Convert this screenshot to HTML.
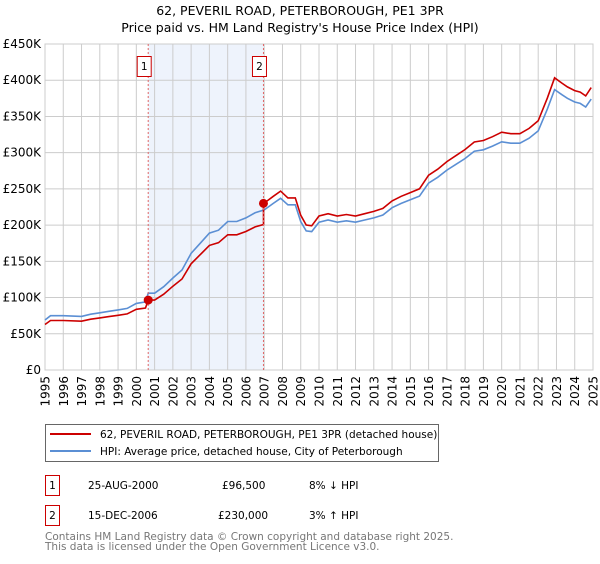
<!DOCTYPE html>
<html><head><meta charset="utf-8"><style>
body{margin:0;background:#fff;width:600px;height:560px;overflow:hidden;font-family:"DejaVu Sans","Liberation Sans",sans-serif}
svg text{font-family:"DejaVu Sans","Liberation Sans",sans-serif}
</style></head><body>
<svg id="c" width="600" height="560" xmlns="http://www.w3.org/2000/svg">
<text x="300" y="15" text-anchor="middle" font-size="12.5" fill="#000">62, PEVERIL ROAD, PETERBOROUGH, PE1 3PR</text>
<text x="300" y="32" text-anchor="middle" font-size="12.5" fill="#000">Price paid vs. HM Land Registry's House Price Index (HPI)</text>
<g id="plot"></g>
<rect x="45.5" y="424.5" width="393" height="37" fill="#fff" stroke="#666"/>
<line x1="50" y1="434" x2="91" y2="434" stroke="#cc0000" stroke-width="2"/>
<text x="100" y="438" font-size="10.5">62, PEVERIL ROAD, PETERBOROUGH, PE1 3PR (detached house)</text>
<line x1="50" y1="451" x2="91" y2="451" stroke="#5b8fd4" stroke-width="2"/>
<text x="100" y="455" font-size="10.5">HPI: Average price, detached house, City of Peterborough</text>
<g>
<rect x="45.5" y="475.5" width="14" height="20" fill="#fff" stroke="#cc0000"/>
<text x="52.5" y="489" text-anchor="middle" font-size="10.5">1</text>
<text x="88" y="489" font-size="10.5">25-AUG-2000</text>
<text x="222" y="489" font-size="10.5">£96,500</text>
<text x="309" y="489" font-size="10.5">8% ↓ HPI</text></g>
<g>
<rect x="45.5" y="505.5" width="14" height="20" fill="#fff" stroke="#cc0000"/>
<text x="52.5" y="519" text-anchor="middle" font-size="10.5">2</text>
<text x="88" y="519" font-size="10.5">15-DEC-2006</text>
<text x="218" y="519" font-size="10.5">£230,000</text>
<text x="309" y="519" font-size="10.5">3% ↑ HPI</text></g>
<text x="45" y="540" font-size="10.5" fill="#777">Contains HM Land Registry data © Crown copyright and database right 2025.</text>
<text x="45" y="550" font-size="10.5" fill="#777">This data is licensed under the Open Government Licence v3.0.</text>
</svg>
<script>
const hpiYears=[1995,1995.3,1996,1997,1997.5,1998,1998.5,1999,1999.5,2000,2000.5,2000.65,2001,2001.5,2002,2002.5,2003,2003.5,2004,2004.5,2005,2005.5,2006,2006.5,2007,2007.5,2007.9,2008.3,2008.7,2009,2009.3,2009.6,2010,2010.5,2011,2011.5,2012,2012.5,2013,2013.5,2014,2014.5,2015,2015.5,2016,2016.5,2017,2017.5,2018,2018.5,2019,2019.5,2020,2020.5,2021,2021.5,2022,2022.5,2022.9,2023.3,2023.6,2024,2024.3,2024.6,2024.9];
const hpiValues=[69,75,75,74,77,79,81,83,85,92,94,106,106,115,127,138,161,175,189,193,205,205,210,217,221,230,237,228,228,205,192,191,204,207,204,206,204,207,210,214,224,230,235,240,258,266,276,284,292,302,304,309,315,313,313,320,330,360,387,380,375,370,368,363,374];
const saleYears=[2000.65,2006.96];
const salePrices=[96.5,230];
const saleLabels=["1","2"];
const yTicks=[0,50,100,150,200,250,300,350,400,450];
const yTickLabels=["£0","£50K","£100K","£150K","£200K","£250K","£300K","£350K","£400K","£450K"];
const xTicks=[1995,1996,1997,1998,1999,2000,2001,2002,2003,2004,2005,2006,2007,2008,2009,2010,2011,2012,2013,2014,2015,2016,2017,2018,2019,2020,2021,2022,2023,2024,2025];

const X0=45,X1=593,Y0=370,Y1=44;
const xs=t=>X0+(t-1995)/30*(X1-X0);
const ys=v=>Y0-v/450*(Y0-Y1);
const NS="http://www.w3.org/2000/svg";
const g=document.getElementById('plot');
function mk(tag,attrs,parent){const e=document.createElementNS(NS,tag);for(const k in attrs)e.setAttribute(k,attrs[k]);(parent||g).appendChild(e);return e;}
function hpiAt(t){for(let i=0;i<hpiYears.length-1;i++){if(t>=hpiYears[i]&&t<=hpiYears[i+1]){const f=(t-hpiYears[i])/(hpiYears[i+1]-hpiYears[i]);return hpiValues[i]+f*(hpiValues[i+1]-hpiValues[i]);}}return hpiValues[hpiValues.length-1];}

// shaded band
const band=mk('rect',{x:xs(saleYears[0]),y:Y1,width:xs(saleYears[1])-xs(saleYears[0]),height:Y0-Y1,fill:'#eef3fc'});


// grid
for(let i=0;i<yTicks.length;i++){
  const y=ys(yTicks[i]);
  const l=mk('line',{x1:X0,x2:X1,y1:y,y2:y,stroke:'#ccc','stroke-width':1});
  
  
  const t=mk('text',{x:X0-4,y:y+4,'text-anchor':'end','font-size':'12'});
  t.textContent=yTickLabels[i];
  
  
}
for(const yr of xTicks){
  const x=xs(yr);
  const l=mk('line',{x1:x,x2:x,y1:Y1,y2:Y0,stroke:'#ccc','stroke-width':1});
  
  
  const t=mk('text',{x:0,y:0,'font-size':'12','text-anchor':'end',transform:`translate(${x+4.5},${Y0+6}) rotate(-90)`});
  t.textContent=yr;
  
  
}
const bx=mk('rect',{x:X0,y:Y1,width:X1-X0,height:Y0-Y1,fill:'none',stroke:'#ccc'});


// hpi line
let d='';hpiYears.forEach((t,i)=>{d+=(i?'L':'M')+xs(t).toFixed(1)+','+ys(hpiValues[i]).toFixed(1);});
const hp=mk('path',{d:d,fill:'none',stroke:'#5b8fd4','stroke-width':1.6});


// property line: HPI scaled from most recent sale
const f0=salePrices[0]/hpiAt(saleYears[0]),f1=salePrices[1]/hpiAt(saleYears[1]);
let pts=[];
hpiYears.forEach((t,i)=>{if(t<saleYears[1])pts.push([t,hpiValues[i]*f0]);});
pts.push([saleYears[1],hpiAt(saleYears[1])*f0]);
pts.push([saleYears[1],salePrices[1]]);
hpiYears.forEach((t,i)=>{if(t>saleYears[1])pts.push([t,hpiValues[i]*f1]);});
let d2='';pts.forEach((p,i)=>{d2+=(i?'L':'M')+xs(p[0]).toFixed(1)+','+ys(p[1]).toFixed(1);});
const rp=mk('path',{d:d2,fill:'none',stroke:'#cc0000','stroke-width':1.6});


// sale markers
for(let i=0;i<saleYears.length;i++){
  const x=xs(saleYears[i]);
  const vl=mk('line',{x1:x,x2:x,y1:Y1,y2:Y0,stroke:'#e06666','stroke-width':1,'stroke-dasharray':'2,2'});
  
  
  const c=mk('circle',{cx:x,cy:ys(salePrices[i]),r:4.5,fill:'#cc0000'});
  
  
  const r=mk('rect',{x:x-11,y:56.5,width:14,height:20,fill:'#fff',stroke:'#cc0000'});
  
  
  const tt=mk('text',{x:x-4,y:70,'text-anchor':'middle','font-size':'10.5'});
  tt.textContent=saleLabels[i];
  
  
}
</script>
</body></html>
